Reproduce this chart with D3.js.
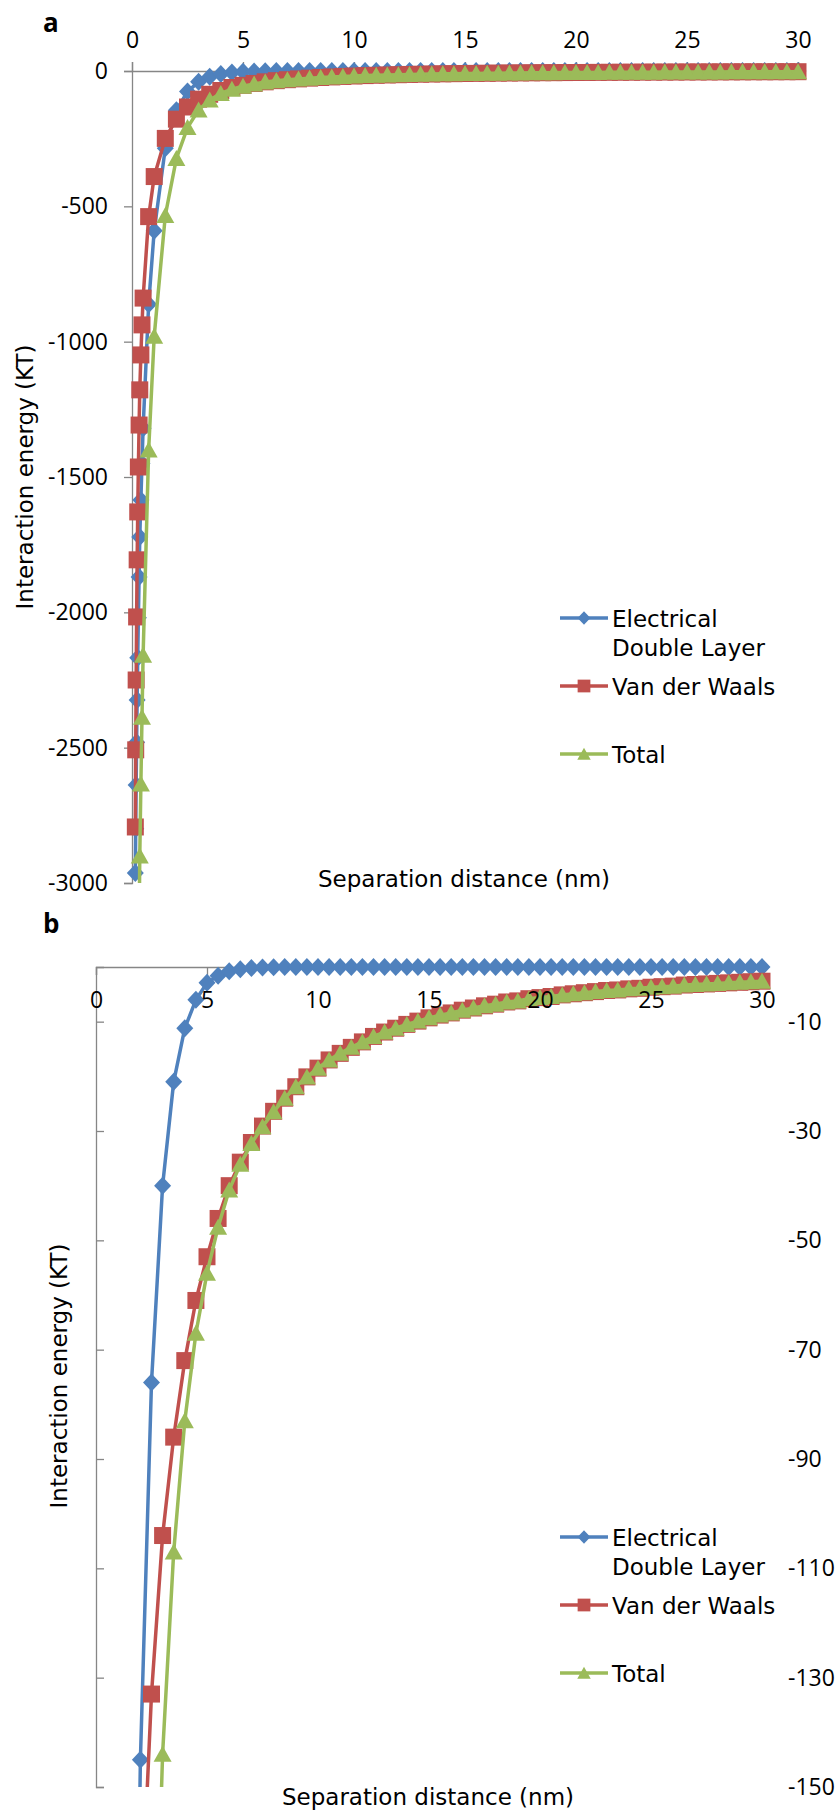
<!DOCTYPE html>
<html>
<head>
<meta charset="utf-8">
<script src="https://cdnjs.cloudflare.com/ajax/libs/d3/7.8.5/d3.min.js"></script>
<style>
  body { margin: 0; background: #fff; }
  svg { display: block; background: #fff; }
  .tick text { font-family: "Open Sans", sans-serif; font-size: 23px; fill: #000; }
  .axis-title, .legend text { font-family: "DejaVu Sans", sans-serif; font-size: 23px; fill: #000; }
  .panel-label { font-family: "Open Sans", sans-serif; font-size: 26px; font-weight: bold; }
</style>
</head>
<body>
<svg id="chart" width="840" height="1813"></svg>
<script>
const separation = [0.15, 0.167, 0.187, 0.208, 0.232, 0.258, 0.287, 0.32, 0.35, 0.4, 0.45, 0.5, 0.75,
  1, 1.5, 2, 2.5, 3, 3.5, 4, 4.5, 5, 5.5, 6, 6.5, 7, 7.5, 8, 8.5, 9, 9.5, 10, 10.5, 11, 11.5,
  12, 12.5, 13, 13.5, 14, 14.5, 15, 15.5, 16, 16.5, 17, 17.5, 18, 18.5, 19, 19.5, 20, 20.5,
  21, 21.5, 22, 22.5, 23, 23.5, 24, 24.5, 25, 25.5, 26, 26.5, 27, 27.5, 28, 28.5, 29, 29.5, 30];

const electricalDoubleLayer = [-2963, -2800, -2638, -2480, -2324, -2168, -2020, -1869, -1722, -1585, -1450, -1320, -862,
  -590, -285, -145, -76, -40, -21, -11.2, -6, -2.9, -1.6, -0.8, -0.4, -0.2, -0.1, -0.05, 0, 0, 0, 0, 0, 0, 0,
  0, 0, 0, 0, 0, 0, 0, 0, 0, 0, 0, 0, 0, 0, 0, 0, 0, 0,
  0, 0, 0, 0, 0, 0, 0, 0, 0, 0, 0, 0, 0, 0, 0, 0, 0, 0, 0];

const vanDerWaals = [-2793, -2508, -2250, -2017, -1806, -1629, -1463, -1308, -1178, -1049, -938, -839, -538,
  -390, -249, -178, -133, -104, -86, -72, -61, -53, -46, -40, -35.7, -32.1, -29.1, -26.4, -24.0, -21.9, -20.1, -18.5, -17.0, -15.8, -14.7,
  -13.7, -12.7, -11.9, -11.2, -10.5, -9.9, -9.3, -8.8, -8.4, -7.9, -7.5, -7.1, -6.8, -6.4, -6.2, -5.8, -5.6, -5.4,
  -5.1, -4.9, -4.7, -4.5, -4.3, -4.2, -4.0, -3.9, -3.7, -3.6, -3.5, -3.3, -3.2, -3.1, -3.0, -2.9, -2.8, -2.7, -2.6];

const totalEnergy = [-5756, -5308, -4888, -4497, -4130, -3797, -3483, -3177, -2900, -2634, -2388, -2159, -1400,
  -980, -534, -323, -209, -144, -107, -83, -67, -56, -47.6, -40.8, -36.1, -32.3, -29.2, -26.5, -24.0, -21.9, -20.1, -18.5, -17.0, -15.8, -14.7,
  -13.7, -12.7, -11.9, -11.2, -10.5, -9.9, -9.3, -8.8, -8.4, -7.9, -7.5, -7.1, -6.8, -6.4, -6.2, -5.8, -5.6, -5.4,
  -5.1, -4.9, -4.7, -4.5, -4.3, -4.2, -4.0, -3.9, -3.7, -3.6, -3.5, -3.3, -3.2, -3.1, -3.0, -2.9, -2.8, -2.7, -2.6];

const xTickValues = [0, 5, 10, 15, 20, 25, 30];
const yTicksTop = [0, -500, -1000, -1500, -2000, -2500, -3000];
const yTicksBottom = [-10, -30, -50, -70, -90, -110, -130, -150];
const seriesNames = [["Electrical", "Double Layer"], ["Van der Waals"], ["Total"]];
const seriesColors = ["#4F81BD", "#C0504D", "#9BBB59"];
const markerShapes = [
  "M0,-9L8.5,0L0,9L-8.5,0Z",
  "M-8.5,-8.5H8.5V8.5H-8.5Z",
  "M0,-8.5L9,7.5L-9,7.5Z"
];
const axisColor = "#868686";

const svg = d3.select("#chart");

class EnergyPanel {
  constructor(cfg) {
    this.cfg = cfg;
    this.g = svg.append("g").attr("class", "panel-" + cfg.name);
    this.x = d3.scaleLinear().domain([0, 30]).range([cfg.left, cfg.right]);
    this.y = d3.scaleLinear().domain(cfg.yDomain).range([cfg.bottom, cfg.top]);

    this.axisLayer = this.g.append("g");
    this.seriesLayer = this.createSeriesLayer();
    this.labelLayer = this.g.append("g");

    this.drawAxes();
    this.drawSeries();
    this.drawLegend();
    this.drawTitles();
  }

  createSeriesLayer() {
    const c = this.cfg;
    const id = "clip-" + c.name;
    svg.append("clipPath").attr("id", id)
      .append("rect")
      .attr("x", c.left - 20)
      .attr("y", c.top - 20)
      .attr("width", c.right - c.left + 40)
      .attr("height", c.bottom - c.top + 20);
    return this.g.append("g").attr("clip-path", `url(#${id})`);
  }

  drawAxes() {
    const c = this.cfg;
    const fmt = d => String(d);
    const xAxis = (c.xLabelsBelow ? d3.axisBottom(this.x) : d3.axisTop(this.x))
      .tickValues(xTickValues).tickSizeOuter(0).tickFormat(fmt)
      .tickSize(c.xTick[0]).tickPadding(c.xTick[1]);
    const yAxis = d3.axisLeft(this.y)
      .tickValues(c.yTicks).tickSizeOuter(0).tickFormat(fmt)
      .tickSize(c.yTick[0]).tickPadding(c.yTick[1]);

    // axis lines go under the series, tick labels over them
    this.axisLayer.append("g")
      .attr("transform", `translate(0,${this.y(0)})`)
      .call(xAxis)
      .call(g => g.selectAll("text").remove());
    this.axisLayer.append("g")
      .attr("transform", `translate(${c.left},0)`)
      .call(yAxis)
      .call(g => g.selectAll("text").remove());
    this.axisLayer.selectAll("path, line")
      .attr("stroke", axisColor)
      .attr("stroke-width", 1.3);

    this.labelLayer.append("g")
      .attr("transform", `translate(0,${this.y(0)})`)
      .call(xAxis)
      .call(g => g.selectAll("path, line").remove());

    if (c.yLabelX) {
      this.labelLayer.append("g")
        .attr("transform", `translate(${c.yLabelX},0)`)
        .call(d3.axisRight(this.y).tickValues(c.yTicks).tickSize(0).tickPadding(0).tickFormat(fmt))
        .call(g => g.selectAll("path, line").remove());
    } else {
      this.labelLayer.append("g")
        .attr("transform", `translate(${c.left},0)`)
        .call(yAxis)
        .call(g => g.selectAll("path, line").remove());
    }

    this.g.append("text")
      .attr("class", "panel-label")
      .attr("x", c.labelPos[0])
      .attr("y", c.labelPos[1])
      .text(c.name);
  }

  drawSeries() {
    const line = d3.line().x(d => this.x(d[0])).y(d => this.y(d[1]));
    const series = [electricalDoubleLayer, vanDerWaals, totalEnergy]
      .map(vals => separation.map((h, i) => [h, vals[i]]));

    series.forEach((data, i) => {
      this.seriesLayer.append("path")
        .datum(data)
        .attr("d", line)
        .attr("fill", "none")
        .attr("stroke", seriesColors[i])
        .attr("stroke-width", 3.5)
        .attr("stroke-linejoin", "round");

      this.seriesLayer.append("g")
        .selectAll("path")
        .data(data)
        .join("path")
        .attr("d", markerShapes[i])
        .attr("transform", d => `translate(${this.x(d[0])},${this.y(d[1])})`)
        .attr("fill", seriesColors[i]);
    });
  }

  drawLegend() {
    const rows = this.cfg.legendRows;
    const lg = this.g.append("g").attr("class", "legend");
    seriesNames.forEach((name, i) => {
      const cy = rows[i];
      lg.append("line")
        .attr("x1", 560).attr("x2", 608)
        .attr("y1", cy).attr("y2", cy)
        .attr("stroke", seriesColors[i])
        .attr("stroke-width", 3.5);
      lg.append("path")
        .attr("d", markerShapes[i])
        .attr("transform", `translate(584,${cy}) scale(0.75)`)
        .attr("fill", seriesColors[i]);
      const t = lg.append("text").attr("x", 612).attr("y", cy + 8.5);
      name.forEach((ln, j) => t.append("tspan").attr("x", 612).attr("dy", j ? 29 : 0).text(ln));
    });
  }

  drawTitles() {
    const c = this.cfg;
    this.g.append("text")
      .attr("class", "axis-title")
      .attr("text-anchor", "middle")
      .attr("x", c.xTitle[0])
      .attr("y", c.xTitle[1])
      .text("Separation distance (nm)");
    this.g.append("text")
      .attr("class", "axis-title")
      .attr("text-anchor", "middle")
      .attr("transform", `translate(${c.yTitle[0]},${c.yTitle[1]}) rotate(-90)`)
      .text("Interaction energy (KT)");
  }
}

const panelA = new EnergyPanel({
  name: "a",
  left: 132, right: 798, top: 71, bottom: 883,
  yDomain: [-3000, 0],
  yTicks: yTicksTop,
  xTick: [9, 14],
  yTick: [8, 16],
  labelPos: [43, 32],
  xTitle: [464, 887],
  yTitle: [33, 477],
  legendRows: [618, 686, 754]
});

const panelB = new EnergyPanel({
  name: "b",
  left: 96, right: 762, top: 967, bottom: 1787,
  yDomain: [-150, 0],
  yTicks: yTicksBottom,
  xLabelsBelow: true,
  xTick: [8, 17],
  yTick: [-8, 0],
  yLabelX: 788,
  labelPos: [43, 933],
  xTitle: [428, 1805],
  yTitle: [67, 1376],
  legendRows: [1537, 1605, 1673]
});
</script>
</body>
</html>
